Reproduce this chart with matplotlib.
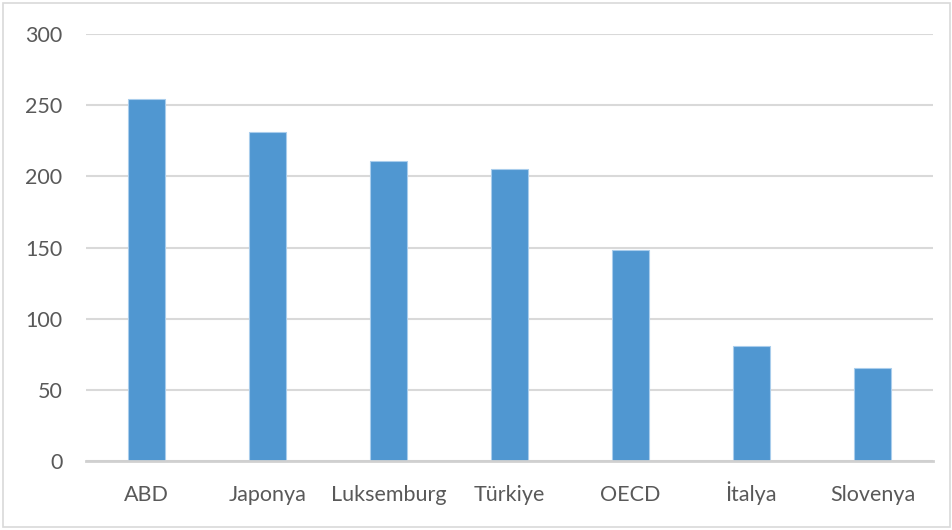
import matplotlib
matplotlib.use("Agg")
import matplotlib.pyplot as plt
from matplotlib.patches import Rectangle

categories = ["ABD", "Japonya", "Luksemburg", "Türkiye", "OECD", "İtalya", "Slovenya"]
values = [254, 231, 211, 205, 148, 81, 65]
yticks = [0, 50, 100, 150, 200, 250, 300]

plt.rcParams['font.family'] = ['Lato', 'DejaVu Sans']

fig = plt.figure(figsize=(9.53, 5.30), dpi=100)
ax = fig.add_axes([86/953, 1-461/530, (933-86)/953, (461-34)/530])

x = list(range(len(categories)))
ax.bar(x, values, width=0.31, color="#5097d1", edgecolor="#a9cdec", linewidth=0.8, zorder=3)

ax.set_xlim(-0.5, len(categories)-0.5)
ax.set_ylim(0, 300)
ax.set_yticks(yticks)
ax.set_xticks(x)
ax.set_xticklabels(categories, va="baseline")
ax.yaxis.grid(True, color="#d9d9d9", linewidth=1.5, zorder=0)
for s in ["top", "right", "left"]:
    ax.spines[s].set_visible(False)
ax.spines["bottom"].set_color("#d0d0d0")
ax.spines["bottom"].set_linewidth(2)
ax.spines["bottom"].set_zorder(4)
ax.tick_params(axis="both", length=0, labelsize=15.5, labelcolor="#595959")
ax.tick_params(axis="x", pad=29)
ax.tick_params(axis="y", pad=17)

fig.patches.append(Rectangle((3/953, 3/530), 947/953, 524/530, transform=fig.transFigure,
                             fill=False, edgecolor="#d9d9d9", linewidth=1.2))

fig.savefig("out.png", dpi=100, facecolor="white")
